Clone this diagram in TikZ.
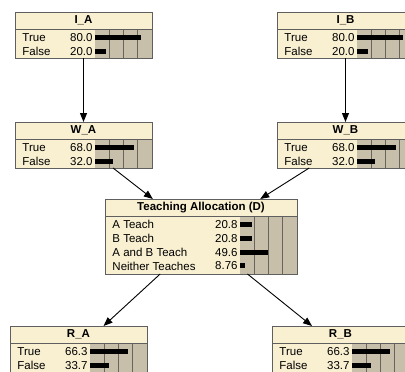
\documentclass[tikz,border=0pt]{standalone}
\usepackage{fontspec}
\setmainfont{Liberation Sans}
\usetikzlibrary{arrows.meta}

\definecolor{nodecream}{RGB}{249,240,210}
\definecolor{bartan}{RGB}{200,191,170}
\definecolor{gridgrey}{RGB}{105,100,92}
\definecolor{edgegrey}{RGB}{95,95,95}

% one belief box: #1 name, #2 left, #3 top, #4 width of the text part,
% #5 number of states, #6 title, #7 states as label/value
\newcommand{\beliefbox}[7]{%
  \node[boxbody,minimum width={#4pt+57pt},minimum height={17pt+14.5pt*#5}] (#1) at (#2,#3) {};
  \fill[bartan] ([shift={(#4,17)}]#1.north west) rectangle (#1.south east);
  \foreach \k in {1,2,3}
    \draw[gridline] ([shift={({#4+14.25*\k},17)}]#1.north west) -- ([shift={({#4+14.25*\k},0)}]#1.south west);
  \node[boxtitle] (#1-t) at ([yshift=-8.5pt]#1.north) {#6};
  \foreach \lab/\val [count=\i] in {#7} {
    \node[statetext,anchor=west] (#1-s\i) at ([shift={(7,{25.5+13.8*(\i-1)})}]#1.north west) {\lab};
    \node[statetext,anchor=east] (#1-v\i) at ([shift={({#4-2},{25.5+13.8*(\i-1)})}]#1.north west) {\val};
    \fill ([shift={(#4,{23+13.8*(\i-1)})}]#1.north west) rectangle ++({0.57*\val},5);
  }
  \draw[boxedge] ([yshift=-17pt]#1.north west) -- ([yshift=-17pt]#1.north east);
  \draw[boxedge] (#1.north west) rectangle (#1.south east);
}

\begin{document}
\begin{tikzpicture}[x=1pt,y=-1pt,
    boxbody/.style={rectangle,anchor=north west,fill=nodecream,inner sep=0,outer sep=0},
    boxtitle/.style={inner sep=0,font=\fontsize{11.5}{13}\selectfont\bfseries},
    statetext/.style={inner sep=0,font=\fontsize{11.5}{13}\selectfont},
    boxedge/.style={edgegrey,line width=0.9pt},
    gridline/.style={gridgrey,line width=0.8pt},
    >={Triangle[length=9pt,width=7pt]},line width=0.9pt]
  \clip (0,0) rectangle (405,372);

  %parents
  \beliefbox{IA}{15}{12}{80}{2}{I\_A}{True/80.0,False/20.0}
  \beliefbox{IB}{277}{12}{80}{2}{I\_B}{True/80.0,False/20.0}

  %middle row
  \beliefbox{WA}{15}{122}{80}{2}{W\_A}{True/68.0,False/32.0}
  \beliefbox{WB}{277}{122}{80}{2}{W\_B}{True/68.0,False/32.0}

  %decision
  \beliefbox{TA}{105}{199}{135}{4}{Teaching Allocation (D)}{A Teach/20.8,B Teach/20.8,A and B Teach/49.6,Neither Teaches/8.76}

  %children
  \beliefbox{RA}{10}{326}{80}{2}{R\_A}{True/66.3,False/33.7}
  \beliefbox{RB}{272}{326}{80}{2}{R\_B}{True/66.3,False/33.7}

  %links
  \draw [->] (IA) -- (WA);
  \draw [->] (IB) -- (WB);
  \draw [->] (WA) -- (TA);
  \draw [->] (WB) -- (TA);
  \draw [->] (TA) -- (RA);
  \draw [->] (TA) -- (RB);
\end{tikzpicture}
\end{document}
